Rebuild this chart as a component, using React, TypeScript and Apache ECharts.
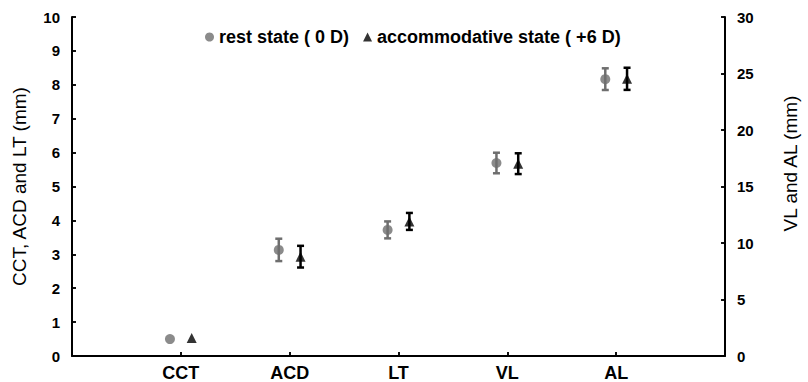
import React, { useEffect, useRef } from "react";
import * as echarts from "echarts";

const categories = ["CCT", "ACD", "LT", "VL", "AL"];
// axis each category is read against: 0 = left (mm), 1 = right (mm)
const axisOfCategory = [0, 0, 0, 1, 1];
const restMean = [0.5, 3.13, 3.72, 17.08, 24.5];
const restSD = [0, 0.33, 0.25, 0.91, 0.96];
const accomMean = [0.53, 2.93, 3.97, 17.02, 24.53];
const accomSD = [0, 0.32, 0.25, 0.92, 0.98];
const leftTicks = { min: 0, max: 10, interval: 1 };
const rightTicks = { min: 0, max: 30, interval: 5 };
const xRange = { min: 0, max: 6 };

const REST_NAME = "rest state ( 0 D)";
const ACCOM_NAME = "accommodative state ( +6 D)";
const REST_COLOR = "#6e6e6e";
const ACCOM_COLOR = "#000000";
const OFFSET = 0.1;
const FONT = "Liberation Sans, Arial, sans-serif";

function pointsFor(means: number[], sds: number[], axis: number, dx: number) {
  const pts: number[][] = [];
  const errs: number[][] = [];
  categories.forEach((_, i) => {
    if (axisOfCategory[i] !== axis) return;
    pts.push([i + 1 + dx, means[i]]);
    errs.push([i + 1 + dx, means[i] - sds[i], means[i] + sds[i]]);
  });
  return { pts, errs };
}

function tickValues(t: { min: number; max: number; interval: number }) {
  const out: number[] = [];
  for (let v = t.min; v <= t.max + 1e-9; v += t.interval) out.push(v);
  return out;
}

function errorSeries(name: string, data: number[][], axis: number, color: string) {
  return {
    type: "custom",
    name,
    yAxisIndex: axis,
    z: 2,
    itemStyle: { color },
    data,
    renderItem: (_params: any, api: any) => {
      const x = api.value(0);
      const lo = api.value(1);
      const hi = api.value(2);
      const p1 = api.coord([x, lo]);
      const p2 = api.coord([x, hi]);
      const cw = hi - lo > 0 ? 3.5 : 0;
      const style = { stroke: color, lineWidth: hi - lo > 0 ? 2.5 : 0 };
      return {
        type: "group",
        children: [
          { type: "line", shape: { x1: p1[0], y1: p1[1], x2: p2[0], y2: p2[1] }, style },
          { type: "line", shape: { x1: p1[0] - cw, y1: p1[1], x2: p1[0] + cw, y2: p1[1] }, style },
          { type: "line", shape: { x1: p2[0] - cw, y1: p2[1], x2: p2[0] + cw, y2: p2[1] }, style },
        ],
      };
    },
  };
}

// frame lines and ticks, drawn in data coordinates of the given y axis
function frameMarkLine(axis: number) {
  const data: any[] = [];
  const seg = (a: number[], b: number[], w: number) =>
    data.push([{ coord: a, lineStyle: { width: w } }, { coord: b }]);
  if (axis === 0) {
    seg([xRange.min, leftTicks.min], [xRange.max, leftTicks.min], 2);
    seg([xRange.min, leftTicks.min], [xRange.min, leftTicks.max], 2);
    const dx = 0.036;
    tickValues(leftTicks).forEach((v) => seg([xRange.min, v], [xRange.min + dx, v], 1.5));
    const dy = 0.118;
    categories.forEach((_, i) => seg([i + 1, leftTicks.min], [i + 1, leftTicks.min + dy], 1.5));
  } else {
    seg([xRange.max, rightTicks.min], [xRange.max, rightTicks.max], 2);
    const dx = 0.036;
    tickValues(rightTicks).forEach((v) => seg([xRange.max, v], [xRange.max - dx, v], 1.5));
  }
  return {
    silent: true,
    symbol: ["none", "none"],
    label: { show: false },
    emphasis: { disabled: true },
    lineStyle: { color: "#000", type: "solid", width: 2 },
    data,
  };
}

function scatter(name: string, data: number[][], axis: number, color: string, symbol: string, size: number, withFrame: boolean) {
  return {
    type: "scatter",
    name,
    yAxisIndex: axis,
    z: 3,
    clip: false,
    symbol,
    symbolSize: size,
    itemStyle: { color },
    data,
    ...(withFrame ? { markLine: frameMarkLine(axis) } : {}),
  };
}

const mkLine = () => ({ show: true, lineStyle: { color: "#000", width: 2 } });
const mkTick = () => ({ show: true, inside: true, length: 4, lineStyle: { color: "#000", width: 1.5 } });
const mkLabel = (size: number, margin: number) => ({ color: "#000", fontSize: size, fontWeight: "bold", fontFamily: FONT, margin });

export default function App() {
  const ref = useRef<HTMLDivElement>(null);
  useEffect(() => {
    document.body.style.margin = "0";
    if (!ref.current) return;
    const chart = echarts.init(ref.current, undefined, { renderer: "svg" });
    const series: any[] = [];
    [0, 1].forEach((axis) => {
      const r = pointsFor(restMean, restSD, axis, -OFFSET);
      const a = pointsFor(accomMean, accomSD, axis, OFFSET);
      series.push(scatter(REST_NAME, r.pts, axis, REST_COLOR, "circle", 10, true));
      series.push(scatter(ACCOM_NAME, a.pts, axis, ACCOM_COLOR, "triangle", 10, false));
      series.push(errorSeries(REST_NAME, r.errs, axis, REST_COLOR));
      series.push(errorSeries(ACCOM_NAME, a.errs, axis, ACCOM_COLOR));
    });
    chart.setOption({
      animation: false,
      legend: {
        data: [
          { name: REST_NAME, icon: "circle", itemStyle: { color: REST_COLOR } },
          { name: ACCOM_NAME, icon: "triangle", itemStyle: { color: ACCOM_COLOR } },
        ],
        left: 205,
        top: 28,
        itemWidth: 9,
        itemHeight: 9,
        itemGap: 14,
        textStyle: { color: "#000", fontSize: 18, fontWeight: "bold", fontFamily: FONT },
        padding: 0,
      },
      grid: { left: 72, right: 71, top: 17, bottom: 26 },
      xAxis: {
        type: "value",
        ...xRange,
        interval: 1,
        axisLine: mkLine(),
        axisTick: mkTick(),
        splitLine: { show: false },
        axisLabel: {
          ...mkLabel(18, 8),
          formatter: (v: number) => categories[v - 1] ?? "",
        },
      },
      yAxis: [
        {
          type: "value",
          ...leftTicks,
          position: "left",
          name: "CCT, ACD and LT (mm)",
          nameLocation: "middle",
          nameRotate: 90,
          nameGap: 43,
          nameTextStyle: { color: "#000", fontSize: 19, fontFamily: FONT },
          axisLine: mkLine(),
          axisTick: mkTick(),
          splitLine: { show: false },
          axisLabel: mkLabel(15, 12),
        },
        {
          type: "value",
          ...rightTicks,
          position: "right",
          name: "VL and AL (mm)",
          nameLocation: "middle",
          nameRotate: 90,
          nameGap: 56,
          nameTextStyle: { color: "#000", fontSize: 19, fontFamily: FONT, padding: [0, 0, 0, 46] },
          axisLine: mkLine(),
          axisTick: mkTick(),
          splitLine: { show: false },
          axisLabel: mkLabel(15, 12),
        },
      ],
      series,
    });
    return () => chart.dispose();
  }, []);
  return <div ref={ref} style={{ width: 808, height: 382 }} />;
}
